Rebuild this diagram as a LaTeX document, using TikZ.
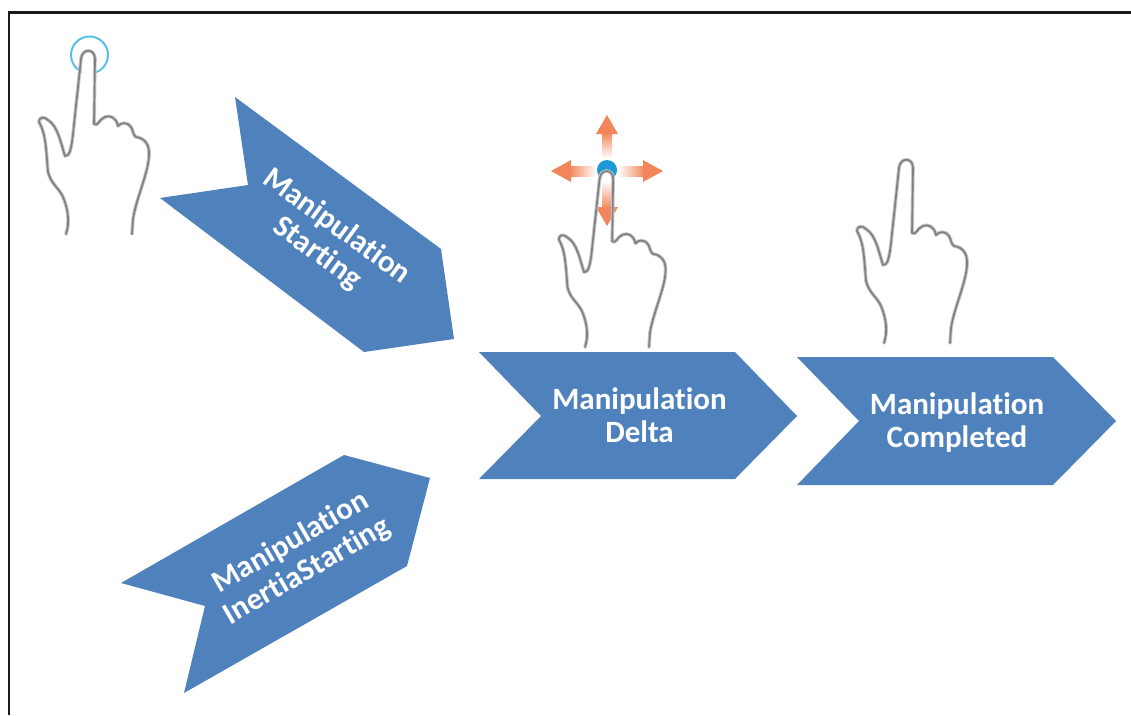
\documentclass[tikz,border=0pt]{standalone}
\usepackage{fontspec}
\setmainfont[RawFeature={-liga}]{Carlito}
\usetikzlibrary{shadings}
\definecolor{chevronblue}{HTML}{4F81BD}
\definecolor{touchblue}{HTML}{5BC0E8}
\definecolor{dotblue}{HTML}{1B9AD6}
\definecolor{moveorange}{HTML}{F0703C}
\tikzset{
  chevron/.style={fill=chevronblue,draw=none},
  chevronlabel/.style={text=white,font=\fontsize{31}{33}\selectfont\bfseries,align=center},
  handshadow/.style={draw=black!22,line width=3.6pt,line join=round,line cap=round},
  handline/.style={draw=black!50,line width=1.7pt,line join=round,line cap=round},
  pics/hand/.style={code={
      \foreach \handstyle in {handshadow,handline}
        \draw[\handstyle] (0,0) .. controls (4,-12) and (2,-25) .. (-3,-37)
          .. controls (-7,-46) and (-15,-50) .. (-18,-62)
          .. controls (-20,-85) and (-20,-100) .. (-27,-112)
          .. controls (-27,-117) and (-22,-118) .. (-18,-114)
          .. controls (-8,-108) and (-5,-90) .. (-1,-78)
          .. controls (3,-78) and (5,-82) .. (7,-100)
          -- (15,-175) .. controls (16,-186) and (29,-186) .. (29,-175)
          -- (28,-110) .. controls (32,-107) and (33,-115) .. (39,-117)
          .. controls (44,-119) and (50,-117) .. (52,-108)
          .. controls (55,-112) and (62,-112) .. (65,-107)
          .. controls (67,-104) and (67,-99) .. (70,-97)
          .. controls (78,-96) and (84,-90) .. (83,-78)
          .. controls (82,-60) and (70,-35) .. (67,-15) -- (66,0);
  }}
}
\begin{document}
\begin{tikzpicture}[x=1pt,y=-1pt]
  \useasboundingbox (0,0) rectangle (1131,715);
  % frame
  \draw[black!90,line width=2.4pt] (9,715) -- (9,12.5) -- (1131,12.5);

  % first hand
  \node[circle,draw=touchblue,line width=2pt,minimum size=37pt,inner sep=0pt] (touch) at (89.5,55) {};
  \node[fill=white,minimum width=14pt,minimum height=22pt,inner sep=0pt] (fingermask) at (88.5,68) {};
  \pic at (66,234) {hand};

  % arrows
  \fill[chevron] (235,97) -- (441,249) -- (454,339) -- (364,352) -- (160,198) -- (248,185) -- cycle;
  \node[chevronlabel,rotate=-36] (starting) at (327,240) {Manipulation\\Starting};

  \fill[chevron] (344,455) -- (430,478) -- (407,566) -- (184,693) -- (205,606) -- (121,583) -- cycle;
  \node[chevronlabel,rotate=30] (inertia) at (299,557) {Manipulation\\InertiaStarting};

  \fill[chevron] (479,352) -- (735,352) -- (797,416) -- (735,479) -- (479,479) -- (541,416) -- cycle;
  \node[chevronlabel] (delta) at (639.5,415) {Manipulation\\Delta};

  \fill[chevron] (797,357) -- (1053,357) -- (1116,421) -- (1053,485) -- (797,485) -- (859,421) -- cycle;
  \node[chevronlabel] (completed) at (957,422.5) {Manipulation\\Completed};

  % moving hand
  \shade[bottom color=white,top color=moveorange!80] (602,158) rectangle (612,134);
  \fill[moveorange!85] (596,134) -- (607,115) -- (618,134) -- cycle;
  \shade[top color=white,bottom color=moveorange!80] (602,181) rectangle (612,207);
  \fill[moveorange!85] (596,207) -- (607,226) -- (618,207) -- cycle;
  \shade[right color=white,left color=moveorange!80] (596,166) rectangle (571,176);
  \fill[moveorange!85] (571,160) -- (551,171) -- (571,182) -- cycle;
  \shade[left color=white,right color=moveorange!80] (618,166) rectangle (643,176);
  \fill[moveorange!85] (643,160) -- (663,171) -- (643,182) -- cycle;
  \node[circle,fill=dotblue,minimum size=20pt,inner sep=0pt] (dot) at (607,170) {};
  \node[circle,fill=white,minimum size=11pt,inner sep=0pt] (fingertip) at (606.5,176.5) {};
  \pic[xscale=0.97,yscale=0.96] at (585,347) {hand};

  % last hand
  \pic at (884,343) {hand};
\end{tikzpicture}
\end{document}
